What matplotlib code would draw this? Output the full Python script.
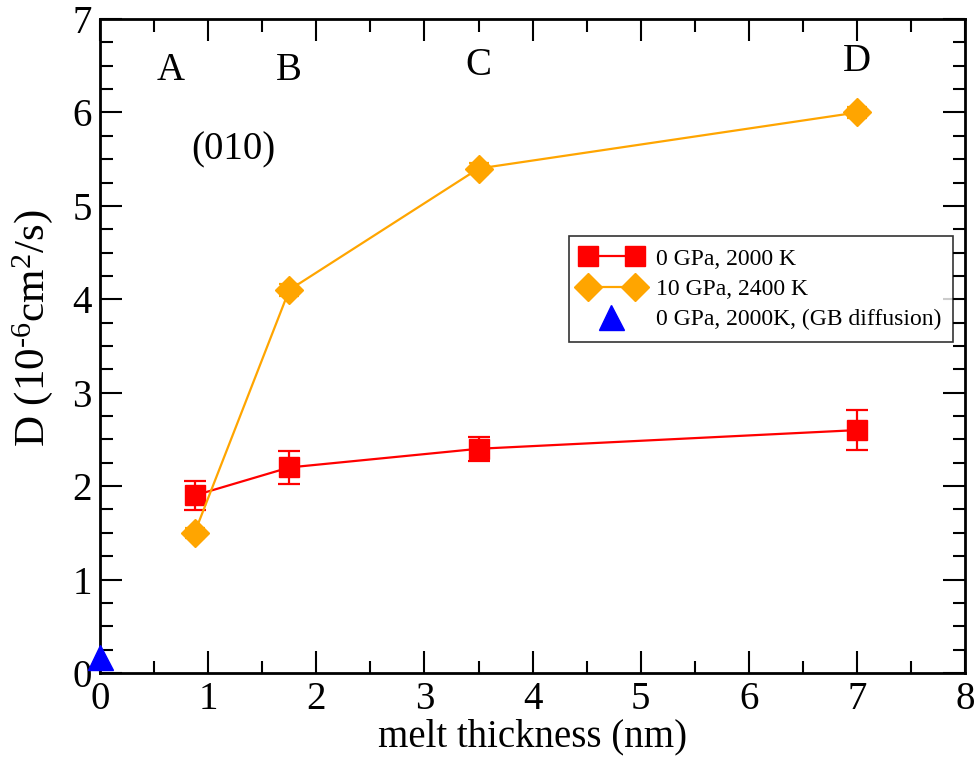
import matplotlib
matplotlib.use("Agg")
import matplotlib.pyplot as plt
from matplotlib.ticker import MultipleLocator
from matplotlib.legend_handler import HandlerLine2D

plt.rcParams['font.family'] = ['Liberation Serif', 'DejaVu Serif']
plt.rcParams['mathtext.fontset'] = 'custom'
plt.rcParams['mathtext.rm'] = 'Liberation Serif'
plt.rcParams['mathtext.it'] = 'Liberation Serif:italic'

# melt thickness (nm) and diffusion coefficient (1e-6 cm^2/s)
thick_0gpa = [0.875, 1.75, 3.5, 7.0]
d_0gpa = [1.9, 2.2, 2.4, 2.6]
err_0gpa = [0.16, 0.18, 0.13, 0.21]

thick_10gpa = [0.875, 1.75, 3.5, 7.0]
d_10gpa = [1.5, 4.1, 5.4, 6.0]
err_10gpa = [0.05, 0.06, 0.06, 0.06]

thick_gb = [0.0]
d_gb = [0.17]

region_labels = ['A', 'B', 'C', 'D']
region_x = [0.65, 1.75, 3.5, 7.0]
region_y = [6.45, 6.45, 6.5, 6.55]

fig = plt.figure(figsize=(9.8, 7.63), dpi=100)
ax = fig.add_axes([0.102, 0.118, 0.883, 0.857])

c_red = ax.errorbar(thick_0gpa, d_0gpa, yerr=err_0gpa, color='#ff0000', marker='s',
                    markersize=15, linewidth=1.6, capsize=8, capthick=1.6,
                    elinewidth=1.6, zorder=3)
c_org = ax.errorbar(thick_10gpa, d_10gpa, yerr=err_10gpa, color='#ffa500', marker='D',
                    markersize=14, linewidth=1.6, capsize=7, capthick=1.6,
                    elinewidth=1.6, zorder=3)
gb_line, = ax.plot(thick_gb, d_gb, linestyle='none', marker='^', color='#0000ff',
                   markersize=18, clip_on=False, zorder=4)

for lab, xv, yv in zip(region_labels, region_x, region_y):
    ax.text(xv, yv, lab, fontsize=28, ha='center', va='center')
ax.text(1.23, 5.6, '(010)', fontsize=28, ha='center', va='center')

ax.set_xlim(0, 8)
ax.set_ylim(0, 7)
ax.xaxis.set_major_locator(MultipleLocator(1))
ax.xaxis.set_minor_locator(MultipleLocator(0.5))
ax.yaxis.set_major_locator(MultipleLocator(1))
ax.yaxis.set_minor_locator(MultipleLocator(0.25))
ax.tick_params(which='both', direction='in', top=True, right=True,
               width=1.5, labelsize=28)
ax.tick_params(which='major', length=16, pad=6)
ax.tick_params(which='minor', length=9)
for sp in ax.spines.values():
    sp.set_linewidth(2)

ax.set_xlabel('melt thickness (nm)', fontsize=28, labelpad=0)
ax.set_ylabel(r'D (10$^{\text{-6}}$cm$^{2}$/s)', fontsize=31)
ax.yaxis.set_label_coords(-0.052, 0.527)

leg = ax.legend([c_red[0], c_org[0], gb_line],
                ['0 GPa, 2000 K', '10 GPa, 2400 K', '0 GPa, 2000K, (GB diffusion)'],
                loc='upper right', bbox_to_anchor=(0.986, 0.668),
                fontsize=17, frameon=True, fancybox=False, edgecolor='black',
                numpoints=2, handlelength=2.6, borderpad=0.5, labelspacing=0.38,
                handletextpad=0.6, borderaxespad=0,
                handler_map={gb_line: HandlerLine2D(numpoints=1)})
leg.get_frame().set_linewidth(1.2)

fig.savefig('out.png', dpi=100)
